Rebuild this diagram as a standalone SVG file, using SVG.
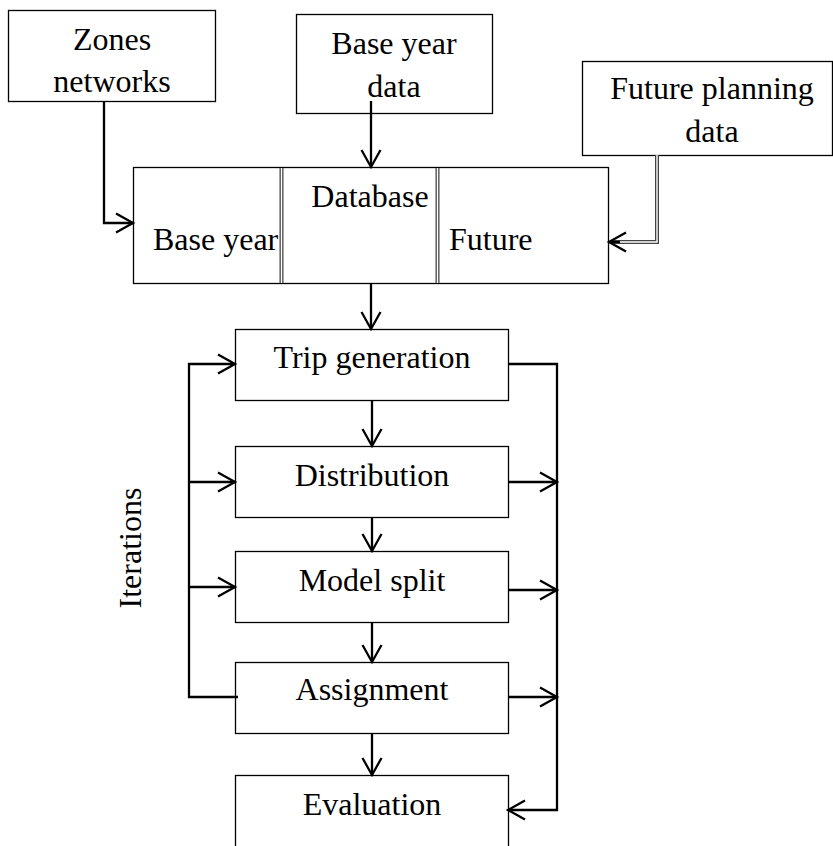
<svg xmlns="http://www.w3.org/2000/svg" width="833" height="846" viewBox="0 0 833 846">
<defs>
<style>
.box{fill:#fff;stroke:#000;stroke-width:1.3}
.t{font-family:"Liberation Serif","Times New Roman",serif;font-size:32px;fill:#000;text-anchor:middle}
.tl{font-family:"Liberation Serif","Times New Roman",serif;font-size:32px;fill:#000}
.c{fill:none;stroke:#000;stroke-width:2.3}
.dbl{fill:none;stroke:#444;stroke-width:4}
.dbi{fill:none;stroke:#fff;stroke-width:1.4}
</style>
<marker id="ah" markerUnits="userSpaceOnUse" markerWidth="24" markerHeight="24" refX="20" refY="12" orient="auto" viewBox="0 0 24 24">
<path d="M3,2.5 L20,12 L3,21.5" fill="none" stroke="#000" stroke-width="2.3"/>
</marker>
</defs>
<rect width="833" height="846" fill="#fff"/>
<g id="zones">
<rect class="box" x="8.5" y="10.5" width="207" height="91"/>
<text class="t" x="112" y="50">Zones</text>
<text class="t" x="112" y="92">networks</text>
</g>
<g id="baseyeardata">
<rect class="box" x="296.5" y="14.5" width="196" height="99"/>
<text class="t" x="394" y="54">Base year</text>
<text class="t" x="394" y="97">data</text>
</g>
<g id="futureplanning">
<rect class="box" x="582.5" y="61.5" width="250" height="94"/>
<text class="t" x="712" y="99">Future planning</text>
<text class="t" x="712" y="142">data</text>
</g>
<g id="database">
<rect class="box" x="133.5" y="167.5" width="475" height="116"/>
<line class="dbl" x1="281.5" y1="168" x2="281.5" y2="283"/>
<line class="dbi" x1="281.5" y1="168" x2="281.5" y2="283"/>
<line class="dbl" x1="437.5" y1="168" x2="437.5" y2="283"/>
<line class="dbi" x1="437.5" y1="168" x2="437.5" y2="283"/>
<text class="tl" x="153" y="250">Base year</text>
<text class="t" x="370" y="207">Database</text>
<text class="tl" x="449" y="250">Future</text>
</g>
<g id="tripgen">
<rect class="box" x="235.5" y="329.5" width="273" height="71"/>
<text class="t" x="372" y="368">Trip generation</text>
</g>
<g id="distribution">
<rect class="box" x="235.5" y="446.5" width="273" height="71"/>
<text class="t" x="372" y="486">Distribution</text>
</g>
<g id="modelsplit">
<rect class="box" x="235.5" y="551.5" width="273" height="71"/>
<text class="t" x="372" y="591">Model split</text>
</g>
<g id="assignment">
<rect class="box" x="235.5" y="662.5" width="273" height="71"/>
<text class="t" x="372" y="700">Assignment</text>
</g>
<g id="evaluation">
<rect class="box" x="235.5" y="775.5" width="273" height="90"/>
<text class="t" x="372" y="815">Evaluation</text>
</g>
<g id="iterations">
<text class="t" transform="translate(141,548) rotate(-90)">Iterations</text>
</g>
<g id="connectors">
<path class="c" d="M104,101 V223 H133" marker-end="url(#ah)"/>
<path class="c" d="M371,101 V167" marker-end="url(#ah)"/>
<path class="dbl" d="M657,155 V242 H611"/>
<path class="dbi" d="M657,155 V242 H611"/>
<path class="c" d="M620,242 H609" marker-end="url(#ah)"/>
<path class="c" d="M371,283 V329" marker-end="url(#ah)"/>
<path class="c" d="M372,400 V446" marker-end="url(#ah)"/>
<path class="c" d="M372,517 V551" marker-end="url(#ah)"/>
<path class="c" d="M372,622 V662" marker-end="url(#ah)"/>
<path class="c" d="M372,733 V775" marker-end="url(#ah)"/>
<path class="c" d="M238,697 H189 V364 H235" marker-end="url(#ah)"/>
<path class="c" d="M189,482 H235" marker-end="url(#ah)"/>
<path class="c" d="M189,587 H235" marker-end="url(#ah)"/>
<path class="c" d="M508,364 H557 V810 H508" marker-end="url(#ah)"/>
<path class="c" d="M508,482 H557" marker-end="url(#ah)"/>
<path class="c" d="M508,590 H557" marker-end="url(#ah)"/>
<path class="c" d="M508,697 H557" marker-end="url(#ah)"/>
</g>
</svg>
